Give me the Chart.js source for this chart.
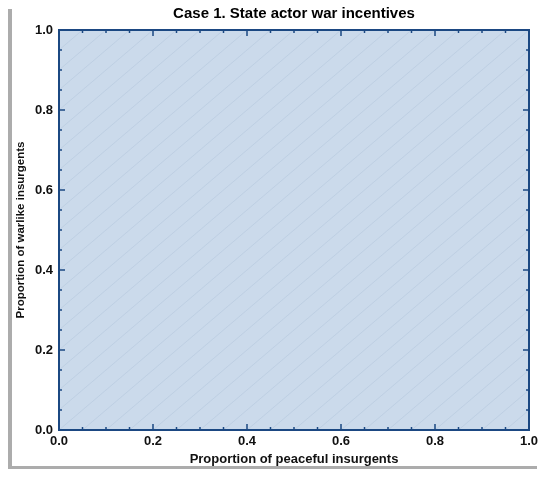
<!DOCTYPE html>
<html>
<head>
<meta charset="utf-8">
<script src="https://cdn.jsdelivr.net/npm/chart.js@4.4.1/dist/chart.umd.min.js"></script>
<style>
  html, body { margin: 0; padding: 0; background: #fff; }
  #wrap { width: 550px; height: 477px; position: relative; }
</style>
</head>
<body>
<div id="wrap"><canvas id="region-canvas"></canvas></div>
<script>
// region where the state actor has a war incentive: upper boundary over x
const regionX = [0, 1]
const regionUpper = [1, 1]

const axisMin = 0
const axisMax = 1
const minorStep = 0.05
const majorStep = 0.2

const FONT = 'Arial, "Liberation Sans", Helvetica, sans-serif'
const FILL = 'rgb(203, 218, 235)'
const FRAME = 'rgb(27, 72, 130)'
const GRID = 'rgba(150, 175, 205, 0.35)'

const isMajor = (v) => Math.abs(v / majorStep - Math.round(v / majorStep)) < 1e-6

// grey page edge, diagonal mesh and inward frame ticks
const framePlugin = {
  id: 'frame',
  beforeDraw(chart) {
    const ctx = chart.ctx
    ctx.save()
    ctx.fillStyle = '#fff'
    ctx.fillRect(0, 0, chart.width, chart.height)
    ctx.fillStyle = 'rgb(172, 172, 172)'
    ctx.fillRect(8, 9, 4, 460)
    ctx.fillRect(8, 466, 529, 3)
    ctx.restore()
  },
  afterDatasetsDraw(chart) {
    const { ctx, chartArea: a, scales: { x, y } } = chart
    ctx.save()
    ctx.beginPath()
    ctx.rect(a.left, a.top, a.right - a.left, a.bottom - a.top)
    ctx.clip()
    ctx.strokeStyle = 'rgba(150, 175, 205, 0.25)'
    ctx.lineWidth = 1
    for (let c = -1; c <= 1 + 1e-9; c += minorStep) {
      ctx.beginPath()
      ctx.moveTo(x.getPixelForValue(0), y.getPixelForValue(c))
      ctx.lineTo(x.getPixelForValue(1), y.getPixelForValue(1 + c))
      ctx.stroke()
    }
    ctx.restore()
  },
  afterDraw(chart) {
    const { ctx, chartArea: a, scales: { x, y } } = chart
    ctx.save()
    ctx.strokeStyle = FRAME
    ctx.lineWidth = 1.5
    for (let i = 0; i <= Math.round((axisMax - axisMin) / minorStep); i++) {
      const v = axisMin + i * minorStep
      const len = isMajor(v) ? 6 : 3
      const px = x.getPixelForValue(v)
      const py = y.getPixelForValue(v)
      ctx.beginPath()
      ctx.moveTo(px, a.bottom); ctx.lineTo(px, a.bottom - len)
      ctx.moveTo(px, a.top); ctx.lineTo(px, a.top + len)
      ctx.moveTo(a.left, py); ctx.lineTo(a.left + len, py)
      ctx.moveTo(a.right, py); ctx.lineTo(a.right - len, py)
      ctx.stroke()
    }
    ctx.lineWidth = 2
    ctx.strokeRect(a.left, a.top, a.right - a.left, a.bottom - a.top)
    ctx.restore()
  }
}

const tickOpts = (pad) => ({
  stepSize: minorStep,
  autoSkip: false,
  maxRotation: 0,
  padding: pad,
  color: '#111',
  font: { family: FONT, size: 13, weight: 'bold' },
  callback: (v) => (isMajor(v) ? v.toFixed(1) : '')
})

new Chart(document.getElementById('region-canvas'), {
  type: 'scatter',
  data: {
    datasets: [{
      data: regionX.map((x, i) => ({ x, y: regionUpper[i] })),
      showLine: true,
      fill: 'origin',
      backgroundColor: FILL,
      borderWidth: 0,
      pointRadius: 0
    }]
  },
  options: {
    responsive: true,
    maintainAspectRatio: false,
    animation: false,
    layout: { padding: { left: 0, right: 21, top: 0, bottom: 0 } },
    plugins: {
      legend: { display: false },
      tooltip: { enabled: false },
      title: {
        display: true,
        fullSize: false,
        text: 'Case 1. State actor war incentives',
        color: '#000',
        font: { family: FONT, size: 15, weight: 'bold' },
        padding: { top: 5, bottom: 7 }
      }
    },
    scales: {
      x: {
        type: 'linear',
        min: axisMin,
        max: axisMax,
        z: 1,
        border: { display: false },
        grid: { color: GRID, drawTicks: false },
        ticks: tickOpts(4),
        title: {
          display: true,
          text: 'Proportion of peaceful insurgents',
          color: '#111',
          font: { family: FONT, size: 13, weight: 'bold' },
          padding: { top: 0, bottom: 10 }
        },
        afterFit: (scale) => { scale.height = 47 }
      },
      y: {
        type: 'linear',
        min: axisMin,
        max: axisMax,
        z: 1,
        border: { display: false },
        grid: { color: GRID, drawTicks: false },
        ticks: tickOpts(6),
        title: {
          display: true,
          text: 'Proportion of warlike insurgents',
          color: '#111',
          font: { family: FONT, size: 11.5, weight: 'bold' },
          padding: { top: 14, bottom: 0 }
        },
        afterFit: (scale) => { scale.width = 59 }
      }
    }
  },
  plugins: [framePlugin]
})
</script>
</body>
</html>
